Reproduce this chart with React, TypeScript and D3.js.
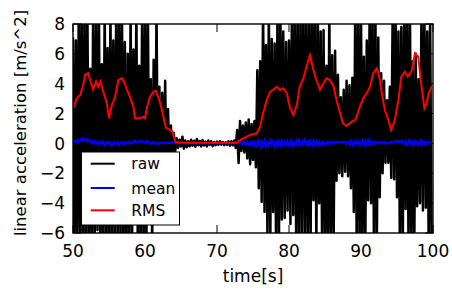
import React from 'react';
import * as d3 from 'd3';

// sampling of the raw / mean signals
const SAMPLE_START = 50;
const SAMPLE_STEP = 0.2;

const rawValues = [
  7.1, -7.5, 6.9, -7.2, 9.5, -6.8, 9.0, -7.6, 9.2, -7.0,
  9.4, -7.1, 5.0, -6.9, 9.1, -7.3, 8.8, -5.8, 9.3, -7.2,
  5.3, -7.0, 9.2, -6.6, 6.4, -7.4, 9.0, -7.1, 6.9, -6.2,
  9.1, -7.3, 9.4, -6.9, 8.9, -7.2, 6.8, -7.5, 6.0, -6.8,
  9.0, -7.0, 6.3, -5.4, 9.2, -7.1, 5.2, -6.9, 9.0, -7.3,
  9.3, -6.6, 9.0, -5.0, 4.3, -6.8, 5.6, -4.5, 9.2, -5.2,
  3.8, -4.0, 3.4, -3.1, 4.2, -2.6, 2.3, -1.7, 1.2, -0.9,
  0.7, -0.5, 0.35, -0.3, 0.25, -0.2, 0.45, -0.35, 0.2, -0.25,
  0.15, -0.2, 0.25, -0.15, 0.18, -0.22, 0.3, -0.12, 0.16, -0.2,
  0.22, -0.14, 0.12, -0.2, 0.2, -0.1, 0.15, -0.18, 0.1, -0.12,
  0.12, -0.1, 0.15, -0.08, 0.1, -0.12, 0.08, -0.1, 0.14, -0.15,
  0.15, -0.12, 0.2, -0.3, 0.9, -1.3, 1.5, -0.5, 1.2, -0.6,
  1.4, -1.0, 1.6, -1.4, 1.3, -1.1, 1.5, -1.6, 4.9, -3.0,
  5.5, -3.9, 9.2, -4.6, 6.6, -6.0, 9.0, -6.8, 7.0, -4.6,
  6.7, -6.9, 9.1, -7.2, 9.3, -5.1, 7.5, -5.0, 6.8, -4.5,
  6.9, -5.4, 9.0, -4.8, 9.2, -6.9, 9.0, -7.1, 9.3, -6.2,
  9.1, -6.4, 9.3, -7.2, 9.0, -6.9, 9.4, -3.8, 8.8, -7.0,
  9.0, -4.0, 7.5, -7.1, 7.6, -6.8, 5.2, -7.3, 9.0, -7.0,
  5.9, -6.5, 6.2, -2.5, 4.6, -2.0, 3.1, -2.2, 3.6, -1.9,
  4.2, -2.2, 3.9, -3.0, 4.4, -4.6, 9.0, -6.8, 9.1, -7.0,
  9.0, -7.0, 5.8, -6.8, 6.9, -3.8, 9.2, -4.0, 9.0, -7.0,
  9.0, -7.0, 7.1, -3.6, 4.7, -2.0, 4.2, -1.3, 2.9, -1.3,
  3.8, -2.3, 9.1, -2.4, 9.0, -3.6, 7.5, -7.0, 7.8, -6.9,
  9.0, -4.4, 9.2, -7.0, 9.0, -6.8, 5.5, -7.1, 6.0, -4.2,
  4.3, -4.0, 9.0, -4.5, 9.1, -4.3, 7.5, -7.0, 9.0, -7.0,
];

const meanValues = [
  0.05, 0.18, 0.02, 0.22, 0.1, 0.28, 0.15, 0.35, 0.2, 0.3,
  0.12, 0.25, 0.05, 0.18, -0.02, 0.15, 0.0, 0.12, -0.05, 0.1,
  -0.06, 0.12, -0.1, 0.08, -0.04, 0.1, -0.12, 0.06, -0.08, 0.09,
  -0.05, 0.1, -0.1, 0.05, -0.02, 0.12, -0.06, 0.08, 0.0, 0.1,
  -0.04, 0.12, 0.02, 0.18, 0.05, 0.14, 0.08, 0.2, 0.1, 0.15,
  0.05, 0.16, 0.02, 0.1, -0.04, 0.08, -0.02, 0.06, -0.05, 0.05,
  -0.03, 0.06, 0.0, 0.05, 0.02, 0.06, 0.03, 0.05, 0.02, 0.04,
  0.03, 0.05, 0.02, 0.04, 0.03, 0.02, 0.03, 0.02, 0.03, 0.02,
  0.02, 0.03, 0.02, 0.02, 0.03, 0.02, 0.02, 0.03, 0.02, 0.02,
  0.02, 0.02, 0.03, 0.02, 0.02, 0.03, 0.02, 0.02, 0.03, 0.02,
  0.02, 0.03, 0.02, 0.02, 0.03, 0.02, 0.02, 0.03, 0.02, 0.02,
  0.02, 0.03, 0.02, 0.04, 0.0, 0.06, -0.02, 0.08, -0.05, 0.1,
  -0.08, 0.1, -0.1, 0.08, -0.12, 0.12, -0.15, 0.1, -0.18, 0.14,
  -0.2, 0.12, -0.16, 0.18, -0.22, 0.1, -0.14, 0.2, -0.1, 0.16,
  -0.18, 0.12, -0.2, 0.15, -0.12, 0.18, -0.16, 0.1, -0.1, 0.14,
  -0.14, 0.16, -0.2, 0.12, -0.08, 0.2, -0.12, 0.22, -0.06, 0.18,
  -0.1, 0.22, -0.04, 0.16, -0.12, 0.14, -0.16, 0.2, -0.08, 0.12,
  -0.14, 0.1, -0.06, 0.12, -0.1, 0.08, -0.04, 0.1, -0.06, 0.12,
  -0.02, 0.1, 0.0, 0.12, 0.02, 0.1, 0.04, 0.12, 0.02, 0.1,
  -0.04, 0.12, -0.08, 0.16, -0.12, 0.14, -0.06, 0.18, -0.1, 0.12,
  -0.08, 0.2, -0.12, 0.16, -0.06, 0.22, -0.1, 0.14, -0.04, 0.12,
  -0.02, 0.1, 0.0, 0.12, 0.02, 0.08, -0.02, 0.1, 0.0, 0.06,
  0.02, 0.1, 0.04, 0.14, 0.08, 0.2, 0.1, 0.16, 0.06, 0.14,
  -0.06, 0.14, -0.1, 0.18, -0.04, 0.2, -0.12, 0.16, -0.08, 0.12,
  -0.06, 0.18, -0.1, 0.14, -0.04, 0.12, -0.08, 0.1, 0.0, 0.06,
];

const rmsTimes = [
  50.1, 50.5, 51.0, 51.4, 51.7, 52.1, 52.5, 52.8, 53.2, 53.5, 53.8, 54.2, 54.7,
  55.0, 55.4, 55.8, 56.3, 56.8, 57.1, 57.5, 57.9, 58.4, 58.6, 59.3, 59.8, 60.0,
  60.3, 60.7, 61.2, 61.5, 61.9, 62.3, 62.6, 62.9, 63.5, 63.8, 64.1, 64.3, 65.0,
  66.0, 67.0, 68.0, 69.0, 70.0, 71.0, 72.0, 72.7, 73.2, 73.65, 74.6, 75.5, 76.0,
  76.4, 76.9, 77.4, 77.8, 78.3, 78.75, 79.2, 79.7, 80.1, 80.6, 81.1, 81.5, 82.0,
  82.5, 82.9, 83.4, 83.8, 84.3, 84.8, 85.2, 85.7, 86.2, 86.6, 87.1, 87.5, 88.0,
  88.7, 89.2, 89.6, 90.3, 90.8, 91.25, 91.7, 92.2, 92.5, 92.9, 93.3, 93.8, 94.2,
  94.7, 95.2, 95.6, 96.1, 96.5, 97.0, 97.5, 97.95, 98.3, 98.8, 99.1, 99.4, 99.8,
];
const rmsValues = [
  2.4, 3.0, 3.25, 3.9, 4.6, 4.7, 4.05, 3.6, 4.15, 3.8, 4.15, 3.47, 2.69,
  1.68, 2.58, 3.02, 4.25, 4.36, 4.13, 3.58, 3.13, 2.46, 1.68, 1.68, 1.79, 1.68,
  2.46, 3.13, 3.47, 3.53, 3.02, 2.35, 1.68, 1.05, 0.9, 0.8, 0.3, 0.08, 0.06,
  0.05, 0.05, 0.05, 0.04, 0.04, 0.04, 0.04, 0.05, 0.2, 0.34, 0.57, 0.68, 1.12,
  2.02, 2.9, 3.47, 3.58, 3.8, 3.58, 3.69, 3.36, 2.46, 1.9, 2.58, 3.8, 4.36,
  5.25, 5.92, 4.92, 4.25, 3.58, 4.03, 4.36, 4.25, 3.8, 2.91, 2.02, 1.35, 1.17,
  1.46, 1.57, 2.13, 3.02, 3.36, 3.8, 4.7, 5.03, 4.58, 3.36, 2.24, 1.57, 0.9,
  1.57, 2.91, 4.47, 4.81, 4.47, 4.81, 6.03, 5.81, 4.25, 2.35, 2.69, 3.36, 3.8,
];

const xTicks = [50, 60, 70, 80, 90, 100];
const yTicks = [-6, -4, -2, 0, 2, 4, 6, 8];
const legendLabels = ['raw', 'mean', 'RMS'];
const seriesColors = ['#000000', '#0000ff', '#ff0000'];

const FONT = '"DejaVu Sans", "Bitstream Vera Sans", sans-serif';

export default function App() {
  const W = 452, H = 293;
  const L = 73, R = 433, T = 24, B = 233;
  const x = d3.scaleLinear().domain([50, 100]).range([L, R]);
  const y = d3.scaleLinear().domain([-6, 8]).range([B, T]);

  const sampled = (vals: number[]) =>
    vals.map((v, i) => [SAMPLE_START + i * SAMPLE_STEP, v] as [number, number]);

  const line = d3.line<[number, number]>().x(d => x(d[0])).y(d => y(d[1]));
  const rawPath = line(sampled(rawValues)) || '';
  const meanPath = line(sampled(meanValues)) || '';
  const rmsPath = line(rmsTimes.map((t, i) => [t, rmsValues[i]] as [number, number])) || '';

  const tickLen = 8;
  const fmt = (v: number) => (v < 0 ? '\u2212' + Math.abs(v) : String(v));

  const legX = 81.5, legY = 152, legW = 98, legH = 73;
  const rowY = [163.7, 188, 210.3];

  return (
    <svg width={W} height={H} style={{ position: 'absolute', left: 0, top: 0, background: '#fff' }}
      fontFamily={FONT}>
      <defs>
        <clipPath id="plotclip">
          <rect x={L} y={T} width={R - L} height={B - T} />
        </clipPath>
      </defs>
      <rect x={0} y={0} width={W} height={H} fill="#fff" />
      <g clipPath="url(#plotclip)">
        <path d={rawPath} fill="none" stroke={seriesColors[0]} strokeWidth={2.5} strokeLinejoin="round" />
        <path d={meanPath} fill="none" stroke={seriesColors[1]} strokeWidth={2} />
        <path d={rmsPath} fill="none" stroke={seriesColors[2]} strokeWidth={2} />
      </g>
      {/* ticks */}
      {xTicks.map(t => (
        <g key={'x' + t}>
          <line x1={x(t)} x2={x(t)} y1={B} y2={B - tickLen} stroke="#000" strokeWidth={1} />
          <line x1={x(t)} x2={x(t)} y1={T} y2={T + tickLen} stroke="#000" strokeWidth={1} />
          <text x={x(t)} y={256.7} textAnchor="middle" fontSize={17} fill="#000">{t}</text>
        </g>
      ))}
      {yTicks.map(t => (
        <g key={'y' + t}>
          <line x1={L} x2={L + tickLen} y1={y(t)} y2={y(t)} stroke="#000" strokeWidth={1} />
          <line x1={R} x2={R - tickLen} y1={y(t)} y2={y(t)} stroke="#000" strokeWidth={1} />
          <text x={65} y={y(t)} dy="0.36em" textAnchor="end" fontSize={17} fill="#000">{fmt(t)}</text>
        </g>
      ))}
      <rect x={L} y={T} width={R - L} height={B - T} fill="none" stroke="#000" strokeWidth={1.4} />
      {/* axis labels */}
      <text x={(L + R) / 2} y={282} textAnchor="middle" fontSize={17} fill="#000">time[s]</text>
      <text transform={`translate(26,123) rotate(-90)`} textAnchor="middle" fontSize={16.5} fill="#000">
        linear acceleration [m/s^2]
      </text>
      {/* legend */}
      <rect x={legX} y={legY} width={legW} height={legH} fill="#fff" stroke="#000" strokeWidth={1} />
      {legendLabels.map((lab, i) => (
        <g key={lab}>
          <line x1={90.7} x2={114.7} y1={rowY[i]} y2={rowY[i]} stroke={seriesColors[i]} strokeWidth={2} />
          <text x={131.3} y={rowY[i]} dy="0.36em" fontSize={15.5} fill="#000">{lab}</text>
        </g>
      ))}
    </svg>
  );
}
